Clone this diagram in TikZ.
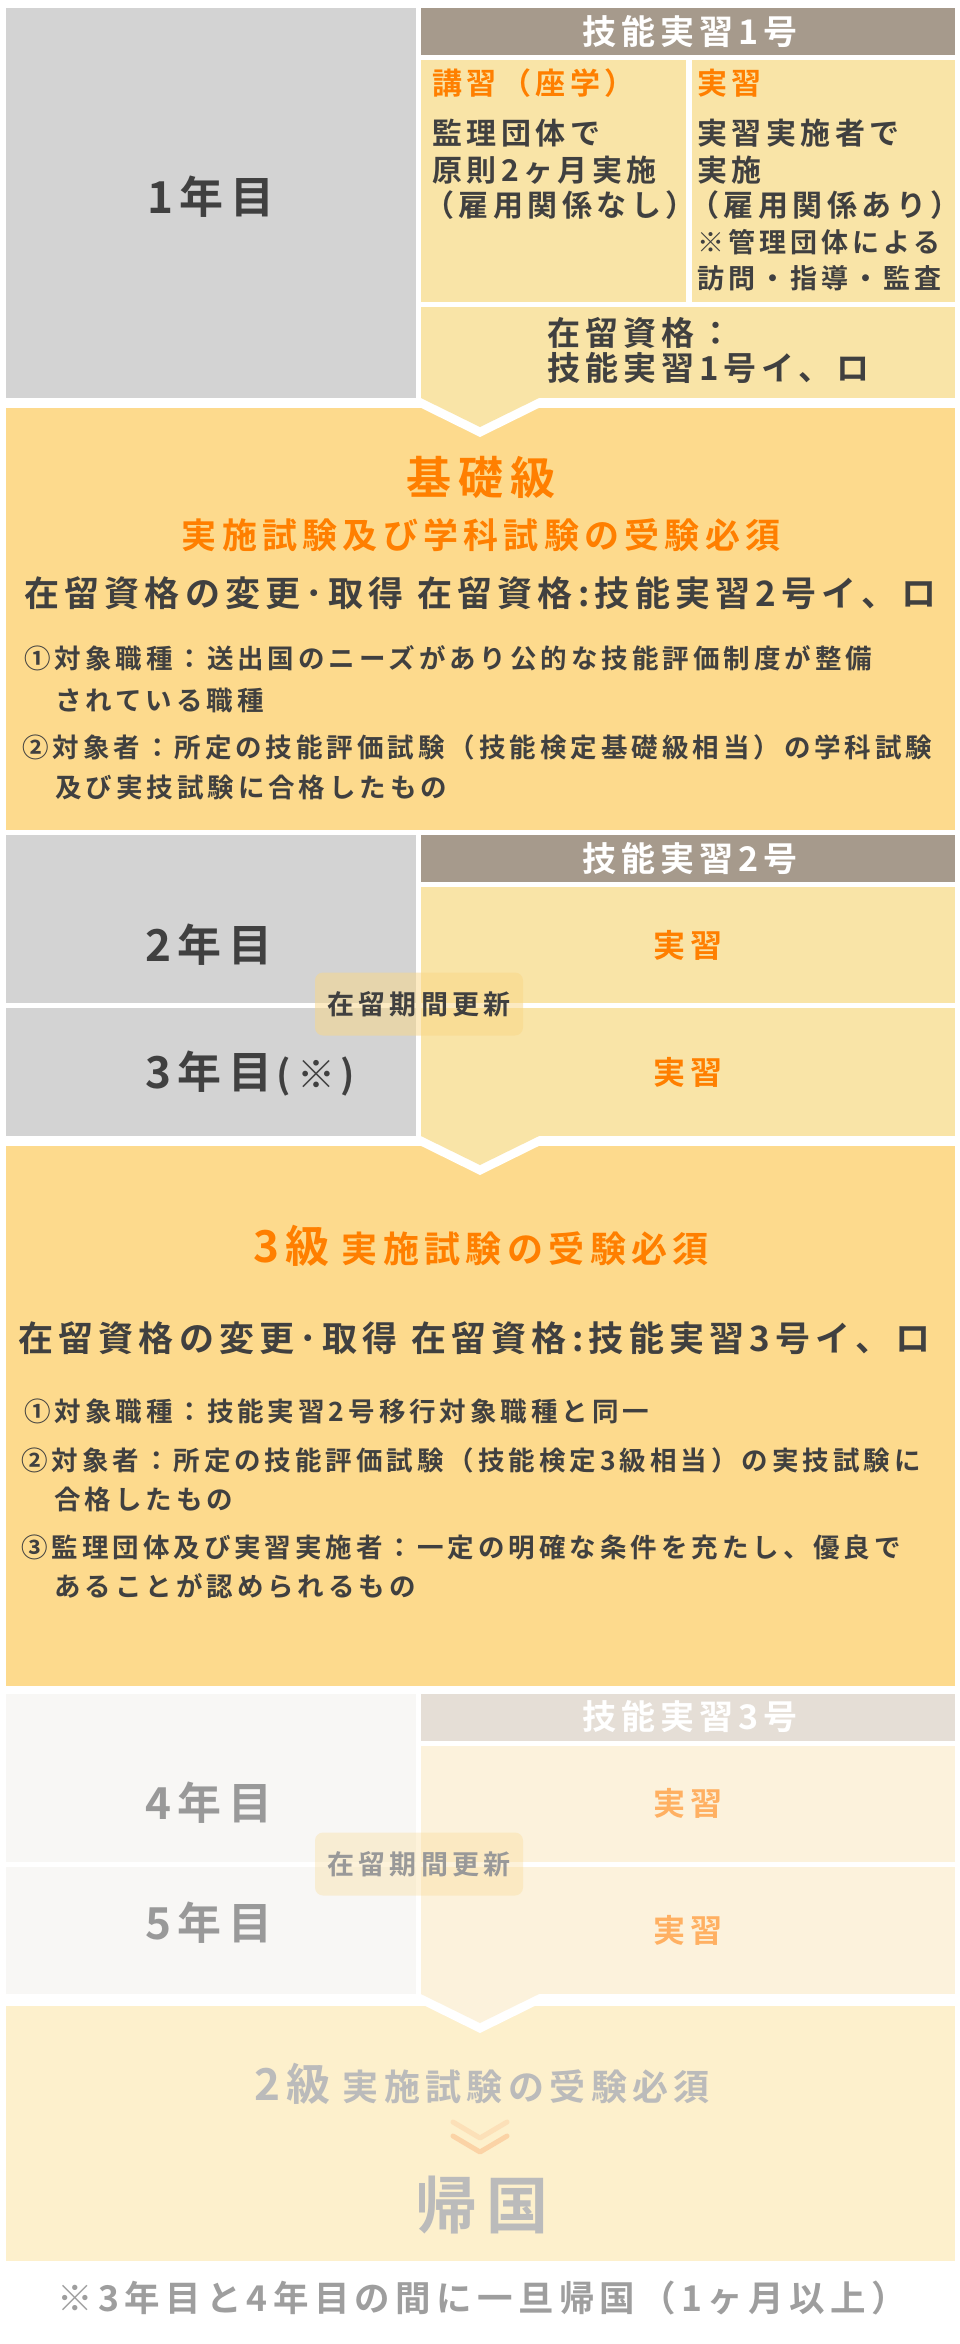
\documentclass[tikz,border=0pt]{standalone}
\usepackage{fontspec}
\setmainfont{Noto Sans CJK JP}[UprightFont=* Bold, LetterSpace=15]
\newcommand\pxsize[1]{\fontsize{#1}{#1}\selectfont}

\definecolor{cgray}{HTML}{D3D3D3}
\definecolor{cbrown}{HTML}{A69A8C}
\definecolor{cpale}{HTML}{F9E4A7}
\definecolor{cexam}{HTML}{FDDA8D}
\definecolor{corange}{HTML}{FF7F00}
\definecolor{cdark}{HTML}{404040}
\definecolor{cbadge}{HTML}{FAD786}
\definecolor{cfgray}{HTML}{F8F7F5}
\definecolor{cfbrown}{HTML}{E5DED6}
\definecolor{cfpale}{HTML}{FCF2DC}
\definecolor{cforange}{HTML}{FFB062}
\definecolor{cftxt}{HTML}{999999}
\definecolor{clast}{HTML}{FDF0CC}
\definecolor{clasttxt}{HTML}{BBBBBB}
\definecolor{cnote}{HTML}{9E9E9E}
\definecolor{cvup}{HTML}{FCE0B8}
\definecolor{cvdown}{HTML}{FBD3A6}

\begin{document}
\begin{tikzpicture}[x=1pt,y=-1pt,
  txt/.style={inner sep=0pt,text=cdark},
  yr/.style={txt,font=\pxsize{44}},
  hd/.style={txt,text=white,font=\pxsize{34}},
  ttl/.style={txt,text=corange,font=\pxsize{30},anchor=west},
  body/.style={txt,font=\pxsize{30},anchor=west},
  small/.style={txt,font=\pxsize{27},anchor=west},
  work/.style={txt,text=corange,font=\pxsize{32}},
  status/.style={txt,font=\pxsize{35},anchor=west},
  cond/.style={txt,font=\pxsize{26.5},anchor=west},
  vmark/.style={line width=5pt,line cap=round,line join=round},
  badge/.style={txt,font=\pxsize{27},fill=cbadge,fill opacity=.5,text opacity=1,
    rounded corners=8pt,minimum width=208pt,minimum height=63pt}]
\useasboundingbox[fill=white] (0,0) rectangle (960,2344);

% year 1
\fill[cgray] (6,8) rectangle (416,398);
\fill[cbrown] (421,8) rectangle (955,55);
\fill[cpale] (421,60) rectangle (686,302);
\fill[cpale] (692,60) rectangle (955,302);
\fill[cpale] (421,307) rectangle (955,398);
% basic level
\fill[cexam] (6,408) rectangle (955,830);
% years 2 and 3
\fill[cgray] (6,835) rectangle (416,1003);
\fill[cgray] (6,1008) rectangle (416,1136);
\fill[cbrown] (421,835) rectangle (955,882);
\fill[cpale] (421,887) rectangle (955,1003);
\fill[cpale] (421,1008) rectangle (955,1136);
% level 3
\fill[cexam] (6,1146) rectangle (955,1686);
% years 4 and 5
\fill[cfgray] (6,1694) rectangle (416,1862);
\fill[cfgray] (6,1867) rectangle (416,1994);
\fill[cfbrown] (421,1694) rectangle (955,1741);
\fill[cfpale] (421,1746) rectangle (955,1862);
\fill[cfpale] (421,1867) rectangle (955,1994);
% level 2
\fill[clast] (6,2006) rectangle (955,2261);

% arrows between the rows
\foreach \yb/\col in {398/cpale,1136/cpale,1994/cfpale}{
  \fill[white] (401,\yb) -- (559,\yb) -- (480,\yb+39) -- cycle;
  \fill[\col] (421,\yb) -- (539,\yb) -- (480,\yb+29) -- cycle;
}

% year 1 texts
\node[yr] (y1) at (211,197) {1年目};
\node[hd] (h1) at (690,32) {技能実習1号};
\node[ttl] (k1) at (432,83) {講習（座学）};
\node[body] (k2) at (432,133) {監理団体で};
\node[body] (k3) at (432,170) {原則2ヶ月実施};
\node[body] (k4) at (424,205) {（雇用関係なし）};
\node[ttl] (j1) at (697,83) {実習};
\node[body] (j2) at (697,133) {実習実施者で};
\node[body] (j3) at (697,170) {実施};
\node[body] (j4) at (689,205) {（雇用関係あり）};
\node[small] (j5) at (697,242) {※管理団体による};
\node[small] (j6) at (697,278) {訪問・指導・監査};
\node[body,font=\pxsize{33}] (s1) at (547,333) {在留資格：};
\node[body,font=\pxsize{33}] (s2) at (547,368) {技能実習1号イ、ロ};

% basic level texts
\node[txt,text=corange,font=\pxsize{45}] (g1) at (481,477) {基礎級};
\node[txt,text=corange,font=\pxsize{35}] (g2) at (481,535) {実施試験及び学科試験の受験必須};
\node[status] (g3) at (24,593) {在留資格の変更･取得 在留資格:技能実習2号イ、ロ};
\node[cond] (g4) at (24,658) {①対象職種：送出国のニーズがあり公的な技能評価制度が整備};
\node[cond] (g5) at (55,700) {されている職種};
\node[cond] (g6) at (22,747) {②対象者：所定の技能評価試験（技能検定基礎級相当）の学科試験};
\node[cond] (g7) at (55,787) {及び実技試験に合格したもの};

% years 2 and 3 texts
\node[yr] (y2) at (209,945) {2年目};
\node[yr] (y3) at (209,1072) {3年目};
\node[txt,font=\pxsize{38},anchor=base west] (y3n) at ([xshift=4pt]y3.base east) {(※)};
\node[hd] (h2) at (690,859) {技能実習2号};
\node[work] (w2) at (688,945) {実習};
\node[work] (w3) at (688,1072) {実習};
\node[badge] (r1) at (419,1004) {在留期間更新};

% level 3 texts
\node[txt,text=corange,anchor=base] (t1) at (481,1262)
  {{\pxsize{44}3級}\hspace{12pt}{\pxsize{36}実施試験の受験必須}};
\node[status] (t2) at (18,1338) {在留資格の変更･取得 在留資格:技能実習3号イ、ロ};
\node[cond] (t3) at (24,1411) {①対象職種：技能実習2号移行対象職種と同一};
\node[cond] (t4) at (21,1460) {②対象者：所定の技能評価試験（技能検定3級相当）の実技試験に};
\node[cond] (t5) at (54,1499) {合格したもの};
\node[cond] (t6) at (21,1547) {③監理団体及び実習実施者：一定の明確な条件を充たし、優良で};
\node[cond] (t7) at (54,1586) {あることが認められるもの};

% years 4 and 5 texts
\node[yr,text=cftxt] (y4) at (209,1803) {4年目};
\node[yr,text=cftxt] (y5) at (209,1923) {5年目};
\node[hd] (h3) at (690,1717) {技能実習3号};
\node[work,text=cforange] (w4) at (688,1803) {実習};
\node[work,text=cforange] (w5) at (688,1930) {実習};
\node[badge,fill opacity=.3,text=cftxt] (r2) at (419,1864) {在留期間更新};

% level 2 and return
\node[txt,text=clasttxt,anchor=base] (e1) at (482,2100)
  {{\pxsize{44}2級}\hspace{12pt}{\pxsize{36}実施試験の受験必須}};
\coordinate (v1) at (480,2138);
\coordinate (v2) at (480,2152);
\draw[vmark,draw=cvup] (453,2122) -- (v1) -- (507,2122);
\draw[vmark,draw=cvdown] (453,2136) -- (v2) -- (507,2136);
\node[txt,text=clasttxt,font=\pxsize{62}] (e2) at (482,2205) {帰国};

% footnote
\node[txt,text=cnote,font=\pxsize{35.5}] (n1) at (482,2298) {※3年目と4年目の間に一旦帰国（1ヶ月以上）};
\end{tikzpicture}
\end{document}
